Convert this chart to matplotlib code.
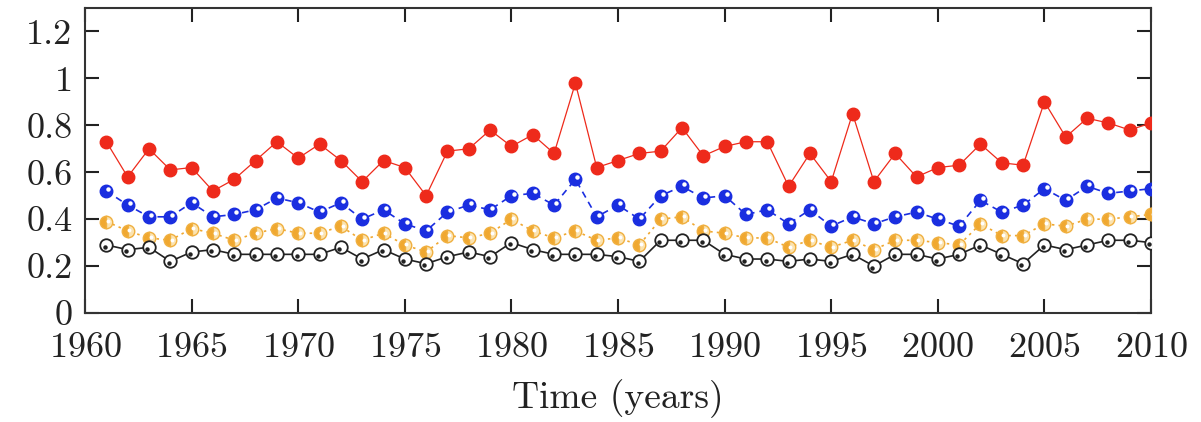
import matplotlib
matplotlib.use("Agg")
import matplotlib.pyplot as plt
from matplotlib.transforms import offset_copy

years = list(range(1961, 2011))

red = [0.73, 0.58, 0.70, 0.61, 0.62, 0.52, 0.57, 0.65, 0.73, 0.66,
       0.72, 0.65, 0.56, 0.65, 0.62, 0.50, 0.69, 0.70, 0.78, 0.71,
       0.76, 0.68, 0.98, 0.62, 0.65, 0.68, 0.69, 0.79, 0.67, 0.71,
       0.73, 0.73, 0.54, 0.68, 0.56, 0.85, 0.56, 0.68, 0.58, 0.62,
       0.63, 0.72, 0.64, 0.63, 0.90, 0.75, 0.83, 0.81, 0.78, 0.81]

blue = [0.52, 0.46, 0.41, 0.41, 0.47, 0.41, 0.42, 0.44, 0.49, 0.47,
        0.43, 0.47, 0.40, 0.44, 0.38, 0.35, 0.43, 0.46, 0.44, 0.50,
        0.51, 0.46, 0.57, 0.41, 0.46, 0.40, 0.50, 0.54, 0.49, 0.50,
        0.42, 0.44, 0.38, 0.44, 0.37, 0.41, 0.38, 0.41, 0.43, 0.40,
        0.37, 0.48, 0.43, 0.46, 0.53, 0.48, 0.54, 0.51, 0.52, 0.53]

orange = [0.39, 0.35, 0.32, 0.31, 0.36, 0.34, 0.31, 0.34, 0.36, 0.34,
          0.34, 0.37, 0.31, 0.34, 0.29, 0.26, 0.33, 0.32, 0.34, 0.40,
          0.35, 0.32, 0.35, 0.31, 0.32, 0.29, 0.40, 0.41, 0.35, 0.34,
          0.32, 0.32, 0.28, 0.31, 0.28, 0.31, 0.27, 0.31, 0.31, 0.30,
          0.29, 0.38, 0.33, 0.33, 0.38, 0.37, 0.40, 0.40, 0.41, 0.42]

black = [0.29, 0.27, 0.28, 0.22, 0.26, 0.27, 0.25, 0.25, 0.25, 0.25,
         0.25, 0.28, 0.23, 0.27, 0.23, 0.21, 0.24, 0.26, 0.24, 0.30,
         0.27, 0.25, 0.25, 0.25, 0.24, 0.22, 0.31, 0.31, 0.31, 0.25,
         0.23, 0.23, 0.22, 0.23, 0.22, 0.25, 0.20, 0.25, 0.25, 0.23,
         0.25, 0.29, 0.25, 0.21, 0.29, 0.27, 0.29, 0.31, 0.31, 0.30]

xticks = [1960, 1965, 1970, 1975, 1980, 1985, 1990, 1995, 2000, 2005, 2010]
yticks = [0, 0.2, 0.4, 0.6, 0.8, 1.0, 1.2]
ytick_labels = ["0", "0.2", "0.4", "0.6", "0.8", "1", "1.2"]

plt.rcParams["font.family"] = ["cmr10", "DejaVu Serif"]
plt.rcParams["axes.formatter.use_mathtext"] = True

fig = plt.figure(figsize=(12.01, 4.22), dpi=100)
ax = fig.add_axes([0.0708, 0.2583, 0.8876, 0.7227])


def glint(ax, x, y, dx=1.5, dy=1.5, size=3.0, color="white", z=5):
    # small highlight dot on top of each marker, shifted a little
    tr = offset_copy(ax.transData, fig=fig, x=dx, y=dy, units="points")
    ax.plot(x, y, ls="none", marker="o", ms=size, mfc=color, mec="none",
            transform=tr, zorder=z)


# red: solid line, filled dots
ax.plot(years, red, color="#ee2a1b", lw=0.9, marker="o", ms=9,
        mfc="#ee2a1b", mec="#ee2a1b", zorder=4)

# blue: dashed line, shaded balls
ax.plot(years, blue, color="#1a2ee0", lw=1.2, ls=(0, (4, 3)), marker="o",
        ms=9, mfc="#1a2ee0", mec="#1a2ee0", zorder=4)
glint(ax, years, blue, size=3.2)

# orange: dotted line, half-lit balls
ax.plot(years, orange, color="#f0a830", lw=1.2, ls=(0, (1.5, 2.5)),
        marker="o", ms=9, fillstyle="left", mfc="#f0a830",
        markerfacecoloralt="#fbe3b0", mec="#f0b040", zorder=4)
glint(ax, years, orange, dx=1.2, dy=0.5, size=2.8)

# black: solid line, open rings
ax.plot(years, black, color="#222222", lw=1.2, marker="o", ms=9,
        mfc="white", mec="#222222", mew=1.3, zorder=4)
glint(ax, years, black, dx=-1.2, dy=-1.2, size=3.2, color="#222222")

ax.set_xlim(1960, 2010)
ax.set_ylim(0, 1.3)
ax.set_xticks(xticks)
ax.set_yticks(yticks)
ax.set_yticklabels(ytick_labels)

ax.tick_params(direction="in", length=10, width=1.5, top=True, right=True,
               labelsize=26, pad=9, colors="#222222")
ax.tick_params(axis="x", pad=14)
for s in ax.spines.values():
    s.set_linewidth(1.5)
    s.set_color("#333333")

ax.set_xlabel("Time (years)", fontsize=27, labelpad=11, color="#222222")

fig.savefig("out.png", dpi=100)
